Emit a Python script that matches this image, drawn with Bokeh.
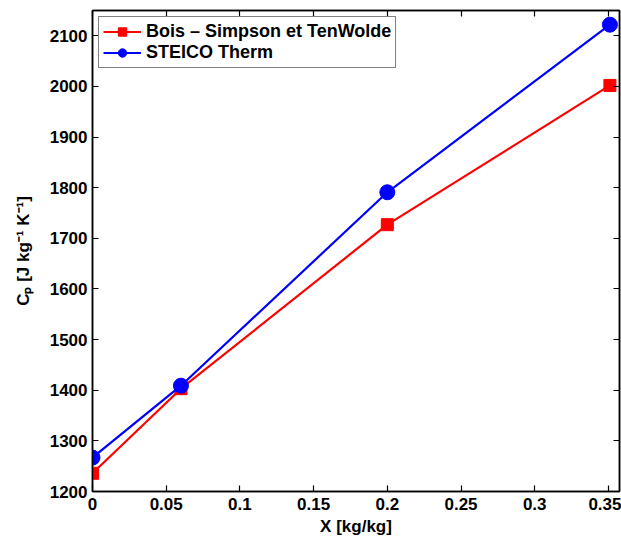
from bokeh.plotting import figure
from bokeh.models import LinearAxis, Legend, LegendItem, Range1d, FixedTicker, CustomLabelingPolicy
from bokeh.embed import file_html
from bokeh.resources import INLINE

# data
x_vals = [0.0, 0.06, 0.2, 0.351]
y_bois = [1236, 1403, 1727, 2002]
y_steico = [1267, 1409, 1791, 2122]
label_bois = "Bois – Simpson et TenWolde"
label_steico = "STEICO Therm"
x_ticks = [0, 0.05, 0.1, 0.15, 0.2, 0.25, 0.3, 0.35]
x_tick_labels = ["0", "0.05", "0.1", "0.15", "0.2", "0.25", "0.3", "0.35"]
y_ticks = [1200, 1300, 1400, 1500, 1600, 1700, 1800, 1900, 2000, 2100]
x_label = "X [kg/kg]"
y_label = "Cₚ [J kg⁻¹ K⁻¹]"

FONT = "Liberation Sans"

p = figure(width=621, height=538, output_backend="svg", toolbar_location=None,
           x_range=Range1d(0, 0.3575), y_range=Range1d(1200, 2150),
           min_border_left=92, min_border_right=2, min_border_top=10, min_border_bottom=46)
p.xgrid.visible = False
p.ygrid.visible = False
p.outline_line_color = "black"
p.outline_line_width = 1.5
p.background_fill_color = "white"
p.border_fill_color = "white"

hide_all = CustomLabelingPolicy(code="""
const all = [...indices]
for (const i of all) { indices.unset(i) }
return indices
""")

def style_axis(ax, ticks, show_labels=True):
    ax.ticker = FixedTicker(ticks=ticks)
    ax.axis_line_color = "black"
    ax.axis_line_width = 1.5
    ax.major_tick_in = 6
    ax.major_tick_out = 0
    ax.major_tick_line_width = 1.2
    ax.minor_tick_in = 0
    ax.minor_tick_out = 0
    ax.major_label_text_font = FONT
    ax.major_label_text_font_style = "bold"
    ax.major_label_text_font_size = "17px" if show_labels else "0px"
    ax.major_label_text_color = "black"
    ax.axis_label_text_font = FONT
    ax.axis_label_text_font_style = "bold"
    ax.axis_label_text_font_size = "17px"
    ax.axis_label_text_color = "black"
    if not show_labels:
        ax.major_label_policy = hide_all
        ax.major_label_standoff = 0

style_axis(p.xaxis[0], x_ticks)
p.xaxis[0].major_label_overrides = {t: s for t, s in zip(x_ticks, x_tick_labels)}
p.xaxis[0].axis_label = x_label
p.xaxis[0].major_label_standoff = 6
p.xaxis[0].axis_label_standoff = 4

style_axis(p.yaxis[0], y_ticks)
p.yaxis[0].axis_label = y_label
p.yaxis[0].major_label_standoff = 5
p.yaxis[0].axis_label_standoff = 14

top = LinearAxis()
style_axis(top, x_ticks, show_labels=False)
p.add_layout(top, "above")
right = LinearAxis()
style_axis(right, y_ticks, show_labels=False)
p.add_layout(right, "right")

r1 = p.line(x_vals, y_bois, line_color="#FF0000", line_width=2.2)
m1 = p.scatter(x_vals, y_bois, marker="square", size=12, fill_color="#FF0000", line_color="#FF0000")
r2 = p.line(x_vals, y_steico, line_color="#0000FF", line_width=2.2)
m2 = p.scatter(x_vals, y_steico, marker="circle", size=15, fill_color="#0000FF", line_color="#0000FF")

legend = Legend(items=[LegendItem(label=label_bois, renderers=[r1, m1]),
                       LegendItem(label=label_steico, renderers=[r2, m2])],
                location="top_left", margin=6, padding=4, spacing=0,
                glyph_width=38, glyph_height=21, label_height=21, label_standoff=5,
                label_text_font=FONT, label_text_font_style="bold",
                label_text_font_size="18px", label_text_color="black",
                border_line_color="black", border_line_width=1.5,
                background_fill_alpha=1.0)
p.add_layout(legend, "center")

open("out.html", "w").write(file_html(p, INLINE))
